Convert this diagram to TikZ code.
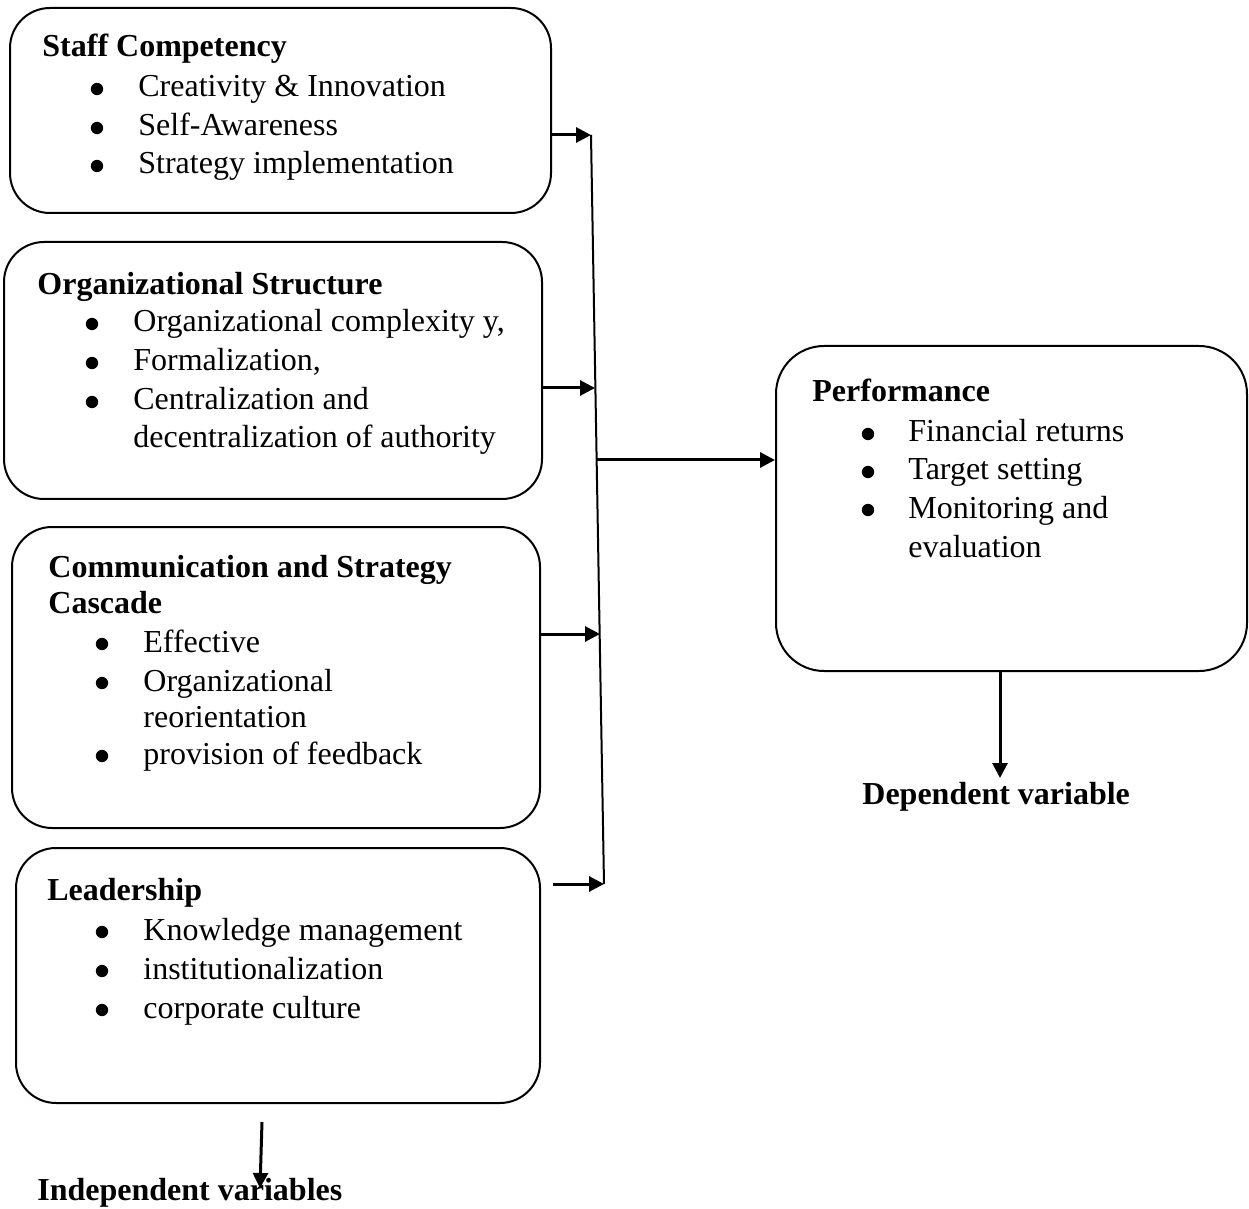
\documentclass[tikz,border=0pt]{standalone}
\usepackage{fontspec}
\setmainfont{Liberation Serif}
\usetikzlibrary{arrows.meta}
\newcommand\bitem[5]{\node[bul] (#1d) at (#2,#4-8) {}; \node[txt] (#1) at (#3,#4) {#5};}
\begin{document}
\begin{tikzpicture}[x=0.5pt,y=-0.5pt,
  box/.style={draw, line width=1pt, rounded corners=20pt, inner sep=0pt},
  txt/.style={anchor=base west, inner sep=0pt, font=\fontsize{16}{19.5}\selectfont},
  head/.style={anchor=base west, inner sep=0pt, font=\fontsize{16}{19.5}\selectfont\bfseries},
  bul/.style={circle, fill, inner sep=0pt, minimum size=6.2pt},
  arr/.style={line width=1.5pt, -{Triangle[length=7.5pt,width=7.5pt]}},
  bus/.style={line width=1pt}]
\useasboundingbox (0,0) rectangle (1249,1209);
% boxes
\node[box, minimum width=270.5pt, minimum height=102.5pt] (b1) at (280.5,110.5) {};
\node[box, minimum width=269pt, minimum height=128.5pt] (b2) at (273,370.5) {};
\node[box, minimum width=264pt, minimum height=150.5pt] (b3) at (276,677.5) {};
\node[box, minimum width=262pt, minimum height=127.5pt] (b4) at (278,975.5) {};
\node[box, rounded corners=24pt, minimum width=235.5pt, minimum height=162.5pt] (perf) at (1011.5,508.5) {};
% box 1
\node[head] (h1) at (42,57) {Staff Competency};
\bitem{l1a}{97}{138}{97}{Creativity \& Innovation}
\bitem{l1b}{97}{138}{136}{Self-Awareness}
\bitem{l1c}{97}{138}{174}{Strategy implementation}
% box 2
\node[head] (h2) at (37,295) {Organizational Structure};
\bitem{l2a}{92}{133}{332}{Organizational complexity y,}
\bitem{l2b}{92}{133}{371}{Formalization,}
\bitem{l2c}{92}{133}{410}{Centralization and}
\node[txt] (l2d) at (133,448) {decentralization of authority};
% box 3
\node[head] (h3) at (48,577) {Communication and Strategy};
\node[head] (h3b) at (48,613) {Cascade};
\bitem{l3a}{102}{143}{652}{Effective}
\bitem{l3b}{102}{143}{691}{Organizational}
\node[txt] (l3c) at (143,727) {reorientation};
\bitem{l3d}{102}{143}{764}{provision of feedback}
% box 4
\node[head] (h4) at (47,900) {Leadership};
\bitem{l4a}{102}{143}{940}{Knowledge management}
\bitem{l4b}{102}{143}{979}{institutionalization}
\bitem{l4c}{102}{143}{1018}{corporate culture}
% performance
\node[head] (h5) at (812,402) {Performance};
\bitem{l5a}{868}{908}{442}{Financial returns}
\bitem{l5b}{868}{908}{480}{Target setting}
\bitem{l5c}{868}{908}{518}{Monitoring and}
\node[txt] (l5d) at (908,557) {evaluation};
% labels
\node[head] (dep) at (862,804) {Dependent variable};
\node[head] (indep) at (37,1200) {Independent variables};
% connectors
\coordinate (j1) at (591,135);
\coordinate (j2) at (595,388);
\coordinate (j3) at (600,634);
\coordinate (j4) at (604,884);
\coordinate (jm) at (596,460);
\coordinate (b4e) at ([xshift=6pt]b4.east);
\draw[bus] (j1) -- (j4);
\draw[arr] (b1.east |- j1) -- (j1);
\draw[arr] (b2.east |- j2) -- (j2);
\draw[arr] (b3.east |- j3) -- (j3);
\draw[arr] (b4e |- j4) -- (j4);
\draw[arr] (jm) -- (perf.west |- jm);
\coordinate (pdx) at (1000,778);
\draw[arr] (perf.south -| pdx) -- (pdx);
\coordinate (ia) at (262,1122);
\coordinate (ib) at (260,1188);
\draw[arr] (ia) -- (ib);
\end{tikzpicture}
\end{document}
